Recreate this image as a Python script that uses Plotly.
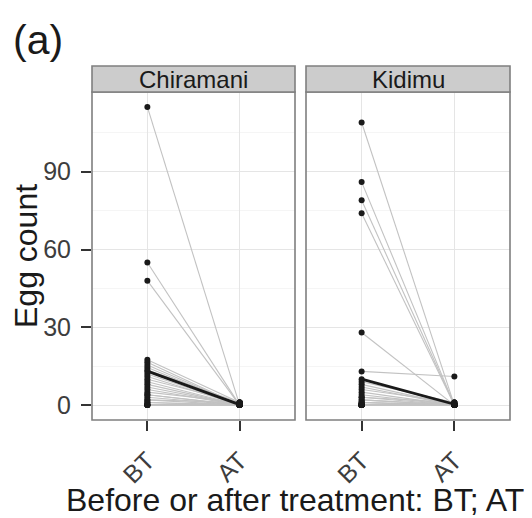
import plotly.graph_objects as go

# ---------------- data ----------------
categories = ["BT", "AT"]
panels = ["Chiramani", "Kidimu"]

chiramani_bt = [115, 55, 48, 17.5, 16.5, 15.5, 14.5, 13.5, 13, 12, 11, 10, 9, 8, 7, 6, 5, 4, 4, 3, 2, 2, 1, 1, 0, 0, 0, 0, 0, 0]
chiramani_at = [0, 0, 0, 1, 0, 0, 0, 1, 0, 0, 0, 1, 0, 0, 0, 0, 1, 0, 0, 0, 0, 1, 0, 0, 0, 0, 0, 0, 1, 0]

kidimu_bt = [109, 86, 79, 74, 28, 13, 10, 9, 8, 7, 6, 5, 4, 3, 3, 2, 2, 1, 1, 1,
             0, 0, 0, 0, 0, 0, 0, 0, 0, 0, 0, 0, 0, 0, 0, 0, 0, 0, 0, 0, 0, 0, 0, 0, 0]
kidimu_at = [0, 0, 0, 0, 0, 11, 0, 1, 0, 0, 1, 0, 0, 0, 1, 0, 0, 0, 0, 0,
             0, 0, 1, 0, 0, 0, 0, 0, 0, 0, 0, 0, 0, 0, 0, 0, 0, 0, 0, 0, 0, 0, 0, 0, 0]

y_ticks = [0, 30, 60, 90]
y_minor = [15, 45, 75, 105]

# page body has an 8px margin; figure is sized to fill the rest of the window
OFF = 8
W, H = 532 - OFF, 518 - OFF
L, R, T, B = 92 - OFF, W - (510 - OFF), 92 - OFF, H - (420 - OFF)
pw = W - L - R
ph = H - T - B

def px(xs):
    return (xs - OFF - L) / pw

def py(ys):
    return (420 - ys) / ph

dom1 = [0, px(295)]
dom2 = [px(306), 1]

FONT = "Liberation Sans, Arial, Helvetica, sans-serif"
GRID = "#e5e5e5"
MINOR = "#f5f5f5"
BORDER = "#7f7f7f"

fig = go.Figure()

def add_panel(bt, at, xa, ya):
    xs, ys = [], []
    for b, a in zip(bt, at):
        xs += [1, 2, None]
        ys += [b, a, None]
    fig.add_trace(go.Scatter(x=xs, y=ys, mode="lines", xaxis=xa, yaxis=ya,
                             line=dict(color="#c2c2c2", width=1.1), hoverinfo="skip",
                             showlegend=False))
    mb = sum(bt) / len(bt)
    ma = sum(at) / len(at)
    fig.add_trace(go.Scatter(x=[1, 2], y=[mb, ma], mode="lines", xaxis=xa, yaxis=ya,
                             line=dict(color="#1a1a1a", width=2.8), showlegend=False))
    fig.add_trace(go.Scatter(x=[1] * len(bt) + [2] * len(at), y=list(bt) + list(at),
                             mode="markers", xaxis=xa, yaxis=ya,
                             marker=dict(color="#1a1a1a", size=6), showlegend=False))

add_panel(chiramani_bt, chiramani_at, "x", "y")
add_panel(kidimu_bt, kidimu_at, "x2", "y2")

yrange = [-5.75, 120.75]
TICKCOL = "#3d3d3d"
xcommon = dict(range=[0.4, 2.6], tickvals=[1, 2], ticktext=categories, tickangle=-45,
               showgrid=True, gridcolor=GRID, gridwidth=1.2, zeroline=False,
               ticks="outside", ticklen=10, tickwidth=1.8, tickcolor="#333333",
               ticklabelstandoff=5,
               tickfont=dict(family=FONT, size=25, color=TICKCOL), showline=False)
ycommon = dict(range=yrange, tickvals=y_ticks, showgrid=True, gridcolor=GRID, gridwidth=1.2,
               zeroline=False, showline=False,
               minor=dict(tickvals=y_minor, showgrid=True, gridcolor=MINOR, gridwidth=1.2, ticks=""))

fig.update_layout(
    xaxis=dict(domain=dom1, anchor="y", **xcommon),
    xaxis2=dict(domain=dom2, anchor="y2", **xcommon),
    yaxis=dict(domain=[0, 1], anchor="x", ticks="outside", ticklen=10, tickwidth=1.8,
               tickcolor="#333333", ticklabelstandoff=5,
               tickfont=dict(family=FONT, size=25, color=TICKCOL),
               **ycommon),
    yaxis2=dict(domain=[0, 1], anchor="x2", showticklabels=False, ticks="", matches="y",
                **ycommon),
    width=W, height=H,
    margin=dict(l=L, r=R, t=T, b=B, autoexpand=False),
    plot_bgcolor="white", paper_bgcolor="white",
)

strip_h = 26 / ph
shapes = []
annotations = []
for i, (xa, name) in enumerate(zip(["x", "x2"], panels)):
    ya = "y" if i == 0 else "y2"
    shapes.append(dict(type="rect", xref=f"{xa} domain", yref=f"{ya} domain",
                       x0=0, x1=1, y0=0, y1=1, line=dict(color=BORDER, width=1.6),
                       fillcolor="rgba(0,0,0,0)", layer="above"))
    shapes.append(dict(type="rect", xref=f"{xa} domain", yref=f"{ya} domain",
                       x0=0, x1=1, y0=1, y1=1 + strip_h, line=dict(color=BORDER, width=1.6),
                       fillcolor="#cccccc", layer="above"))
    annotations.append(dict(text=name, xref=f"{xa} domain", yref=f"{ya} domain",
                            x=0.5, y=1 + strip_h / 2, showarrow=False,
                            xanchor="center", yanchor="middle",
                            font=dict(family=FONT, size=24, color="#1a1a1a")))

annotations.append(dict(text="Egg count", xref="paper", yref="paper",
                        x=px(26), y=py(256), textangle=-90,
                        showarrow=False, xanchor="center", yanchor="middle",
                        font=dict(family=FONT, size=32, color="#1a1a1a")))
annotations.append(dict(text="Before or after treatment: BT; AT", xref="paper", yref="paper",
                        x=px(295), y=py(500), showarrow=False,
                        xanchor="center", yanchor="middle",
                        font=dict(family=FONT, size=32, color="#1a1a1a")))
annotations.append(dict(text="(a)", xref="paper", yref="paper",
                        x=px(11), y=py(40), showarrow=False,
                        xanchor="left", yanchor="middle",
                        font=dict(family=FONT, size=41, color="#1a1a1a")))

fig.update_layout(shapes=shapes, annotations=annotations)
fig.write_html("out.html")
